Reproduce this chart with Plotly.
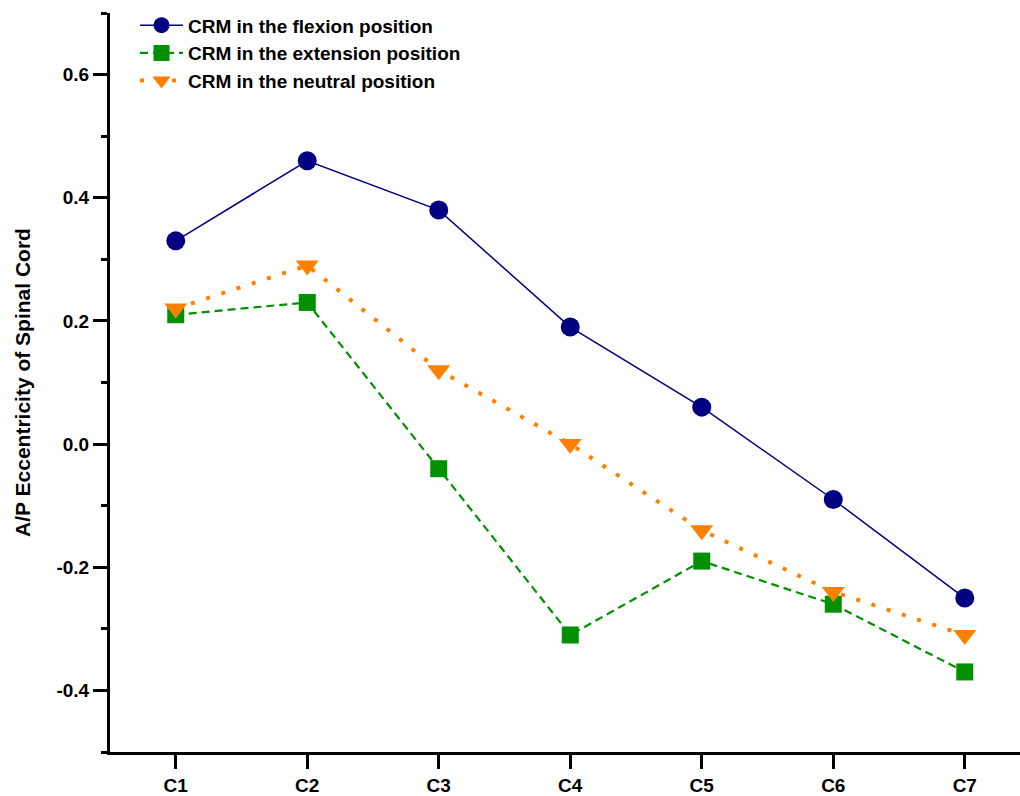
import plotly.graph_objects as go

# Cervical levels and A/P eccentricity of the spinal cord for each neck position
levels = ["C1", "C2", "C3", "C4", "C5", "C6", "C7"]
flexion = [0.33, 0.46, 0.38, 0.19, 0.06, -0.09, -0.25]
extension = [0.21, 0.23, -0.04, -0.31, -0.19, -0.26, -0.37]
neutral = [0.22, 0.29, 0.12, 0.00, -0.14, -0.24, -0.31]

y_ticks = [-0.4, -0.2, 0.0, 0.2, 0.4, 0.6]
y_ticktext = ["-0.4", "-0.2", "0.0", "0.2", "0.4", "0.6"]

xpos = list(range(1, len(levels) + 1))
font_family = "Liberation Sans, Arial, sans-serif"

fig = go.Figure()
fig.add_trace(go.Scatter(
    x=xpos, y=flexion, name="CRM in the flexion position",
    mode="lines+markers",
    line=dict(color="#000080", width=1.5),
    marker=dict(symbol="circle", size=19, color="#000080"),
))
fig.add_trace(go.Scatter(
    x=xpos, y=extension, name="CRM in the extension position",
    mode="lines+markers",
    line=dict(color="#009000", width=2.2, dash="8px,5px"),
    marker=dict(symbol="square", size=17, color="#009000"),
))
fig.add_trace(go.Scatter(
    x=xpos, y=neutral, name="CRM in the neutral position",
    mode="lines+markers",
    line=dict(color="#FF8000", width=4, dash="4px,12px"),
    marker=dict(symbol="triangle-down", size=20, color="#FF8000"),
))

fig.update_layout(
    width=1020, height=796,
    margin=dict(l=110, r=0, t=13, b=42),
    paper_bgcolor="white", plot_bgcolor="white",
    font=dict(family=font_family, size=19, color="black", weight="bold"),
    showlegend=True,
    legend=dict(
        x=0.0275, y=1.009, xanchor="left", yanchor="top",
        bgcolor="rgba(0,0,0,0)", tracegroupgap=0,
        font=dict(family=font_family, size=19, color="black", weight="bold"),
        itemwidth=43,
    ),
)

fig.update_xaxes(
    range=[0.5, 7.42],
    tickvals=xpos, ticktext=levels,
    showgrid=False, zeroline=False,
    showline=True, linecolor="black", linewidth=3,
    ticks="outside", ticklen=14, tickwidth=3, tickcolor="black",
    tickfont=dict(family=font_family, size=19, color="black", weight="bold"),
)
fig.update_yaxes(
    range=[-0.5, 0.7],
    tickvals=y_ticks, ticktext=y_ticktext,
    showgrid=False, zeroline=False,
    showline=True, linecolor="black", linewidth=3,
    ticks="outside", ticklen=14, tickwidth=3, tickcolor="black",
    minor=dict(tickvals=[-0.5, -0.3, -0.1, 0.1, 0.3, 0.5, 0.7],
               ticks="outside", ticklen=6, tickwidth=3, tickcolor="black"),
    tickfont=dict(family=font_family, size=19, color="black", weight="bold"),
    title=dict(text="A/P Eccentricity of Spinal Cord",
               font=dict(family=font_family, size=21, color="black", weight="bold"),
               standoff=21),
)

fig.write_html("out.html")
